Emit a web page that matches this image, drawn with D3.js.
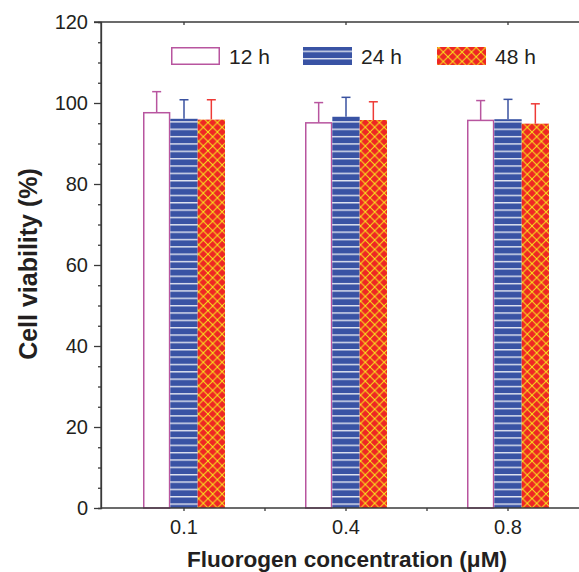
<!DOCTYPE html>
<html>
<head>
<meta charset="utf-8">
<script src="https://cdn.jsdelivr.net/npm/d3@7"></script>
<style>
  html, body { margin: 0; padding: 0; background: #fff; }
  svg { display: block; font-family: "Liberation Sans", Arial, sans-serif; }
</style>
</head>
<body>
<div id="chart"></div>
<script>
// ---- data ----
var categories = ['0.1', '0.4', '0.8'];
var series = ['12 h', '24 h', '48 h'];
var values12 = [97.6, 95.1, 95.7];
var values24 = [96.1, 96.6, 96.0];
var values48 = [95.9, 95.8, 94.9];
var err12 = [5.2, 5.0, 4.9];
var err24 = [4.7, 4.8, 4.9];
var err48 = [4.9, 4.5, 4.9];
var yMajorTicks = [0, 20, 40, 60, 80, 100, 120];

var W = 579, H = 572;
var mLeft = 101, mTop = 22, mBottom = 508, mRight = 587;

var svg = d3.select('#chart').append('svg')
  .attr('width', W).attr('height', H);

var defs = svg.append('defs');

// horizontal white stripes on blue
var stripes = defs.append('pattern')
  .attr('id', 'stripes')
  .attr('patternUnits', 'userSpaceOnUse')
  .attr('width', 10).attr('height', 7.35)
  .attr('y', mBottom);
stripes.append('rect').attr('width', 10).attr('height', 7.35).attr('fill', '#3953a4');
stripes.append('line')
  .attr('x1', 0).attr('x2', 10).attr('y1', 3.5).attr('y2', 3.5)
  .attr('stroke', '#ffffff').attr('stroke-width', 1.2);

// yellow crosshatch on red
var P = 9.4;
var hatch = defs.append('pattern')
  .attr('id', 'hatch')
  .attr('patternUnits', 'userSpaceOnUse')
  .attr('width', P).attr('height', P)
  .attr('x', 199).attr('y', mBottom);
hatch.append('rect').attr('width', P).attr('height', P).attr('fill', '#ee2624');
hatch.append('path')
  .attr('d', 'M0,0L' + P + ',' + P + 'M0,' + P + 'L' + P + ',0')
  .attr('stroke', '#f8ec1e').attr('stroke-width', 0.95).attr('fill', 'none');

var styles = [
  { fill: '#ffffff', stroke: '#b8559f', err: '#b8559f' },
  { fill: 'url(#stripes)', stroke: '#4a62ac', err: '#3a52a0' },
  { fill: 'url(#hatch)', stroke: '#ee2a24', err: '#ee3a36' }
];

var rows = categories.map(function(c, i) {
  return [
    { cat: c, s: 0, v: values12[i], e: err12[i] },
    { cat: c, s: 1, v: values24[i], e: err24[i] },
    { cat: c, s: 2, v: values48[i], e: err48[i] }
  ];
});

var x0 = d3.scaleBand().domain(categories).range([mLeft + 2, mRight + 2]).padding(0);
var half = 41;
var x1 = d3.scaleBand().domain(d3.range(series.length))
  .range([x0.bandwidth() / 2 - half, x0.bandwidth() / 2 + half]).padding(0);
var y = d3.scaleLinear().domain([0, 120]).range([mBottom, mTop]);

var axisColor = '#3a3a3a';
var textColor = '#231f20';

// ---- bars ----
var groups = svg.selectAll('g.grp').data(rows).enter().append('g')
  .attr('class', 'grp')
  .attr('transform', function(d) { return 'translate(' + x0(d[0].cat) + ',0)'; });

// error bars (upper only)
groups.selectAll('g.err').data(function(d) { return d; }).enter().append('g')
  .attr('class', 'err')
  .each(function(d) {
    var g = d3.select(this);
    var cx = x1(d.s) + x1.bandwidth() / 2;
    g.append('line')
      .attr('x1', cx).attr('x2', cx)
      .attr('y1', y(d.v)).attr('y2', y(d.v + d.e))
      .attr('stroke', styles[d.s].err).attr('stroke-width', 1.5);
    g.append('line')
      .attr('x1', cx - 4.5).attr('x2', cx + 4.5)
      .attr('y1', y(d.v + d.e)).attr('y2', y(d.v + d.e))
      .attr('stroke', styles[d.s].err).attr('stroke-width', 1.5);
  });

groups.selectAll('rect').data(function(d) { return d; }).enter().append('rect')
  .attr('x', function(d) { return x1(d.s) + (d.s === 0 ? 0.75 : 0); })
  .attr('y', function(d) { return y(d.v); })
  .attr('width', function(d) { return x1.bandwidth() - (d.s === 0 ? 1.5 : 0); })
  .attr('height', function(d) { return mBottom - y(d.v); })
  .attr('fill', function(d) { return styles[d.s].fill; })
  .attr('stroke', function(d) { return d.s === 0 ? styles[0].stroke : 'none'; })
  .attr('stroke-width', 1.5);

// ---- axes ----
var yMinor = d3.range(0, 121, 5).filter(function(v) { return v % 20 !== 0; });

var gyMinor = svg.append('g')
  .attr('transform', 'translate(' + mLeft + ',0)')
  .call(d3.axisLeft(y).tickValues(yMinor).tickSize(3).tickFormat(''));
var gy = svg.append('g')
  .attr('transform', 'translate(' + mLeft + ',0)')
  .call(d3.axisLeft(y).tickValues(yMajorTicks).tickSize(7).tickPadding(6).tickSizeOuter(0));
gy.selectAll('text')
  .attr('font-size', 20).attr('fill', textColor)
  .attr('font-family', '"Liberation Sans", Arial, sans-serif');

var gx = svg.append('g')
  .attr('transform', 'translate(0,' + mBottom + ')')
  .call(d3.axisBottom(x0).tickSize(3).tickPadding(9).tickSizeOuter(0));
gx.selectAll('text')
  .attr('font-size', 20).attr('fill', textColor)
  .attr('font-family', '"Liberation Sans", Arial, sans-serif');

// minor ticks at category boundaries
var bounds = categories.slice(1).map(function(c) { return x0(c); });
svg.append('g').selectAll('line').data(bounds).enter().append('line')
  .attr('x1', function(d) { return d; }).attr('x2', function(d) { return d; })
  .attr('y1', mBottom).attr('y2', mBottom + 3)
  .attr('stroke', axisColor).attr('stroke-width', 1.3);

// top frame line with inward ticks
var gt = svg.append('g')
  .attr('transform', 'translate(0,' + mTop + ')')
  .call(d3.axisBottom(x0).tickSize(3).tickFormat('').tickSizeOuter(0));

[gyMinor, gy, gx, gt].forEach(function(g) {
  g.selectAll('path.domain').attr('stroke', axisColor).attr('stroke-width', 1.3);
  g.selectAll('.tick line').attr('stroke', axisColor).attr('stroke-width', 1.3);
});
gy.select('path.domain').attr('d', 'M0,' + mBottom + 'V' + mTop);
gt.select('path.domain').attr('d', 'M' + (mLeft - 7) + ',0H' + W);
gx.select('path.domain').attr('d', 'M' + mLeft + ',0H' + W);

// ---- legend ----
var legendX = [171, 303, 437];
var leg = svg.append('g').selectAll('g').data(series).enter().append('g')
  .attr('transform', function(d, i) { return 'translate(' + legendX[i] + ',47)'; });
leg.append('rect')
  .attr('x', function(d, i) { return i === 0 ? 0.75 : 0; })
  .attr('y', function(d, i) { return i === 0 ? 0.75 : 0; })
  .attr('width', function(d, i) { return i === 0 ? 47.5 : 49; })
  .attr('height', function(d, i) { return i === 0 ? 16.5 : 18; })
  .attr('fill', function(d, i) { return styles[i].fill; })
  .attr('stroke', function(d, i) { return i === 0 ? styles[0].stroke : 'none'; })
  .attr('stroke-width', 1.5);
leg.append('text')
  .attr('x', 58).attr('y', 16.5)
  .attr('font-size', 21).attr('fill', textColor)
  .text(function(d) { return d; });

// ---- axis titles ----
svg.append('text')
  .attr('transform', 'translate(37,' + 264 + ') rotate(-90)')
  .attr('text-anchor', 'middle')
  .attr('font-size', 25).attr('font-weight', 'bold').attr('fill', textColor)
  .text('Cell viability (%)');

svg.append('text')
  .attr('x', 347).attr('y', 567)
  .attr('text-anchor', 'middle')
  .attr('font-size', 22.6).attr('font-weight', 'bold').attr('fill', textColor)
  .text('Fluorogen concentration (\u03bcM)');
</script>
</body>
</html>
